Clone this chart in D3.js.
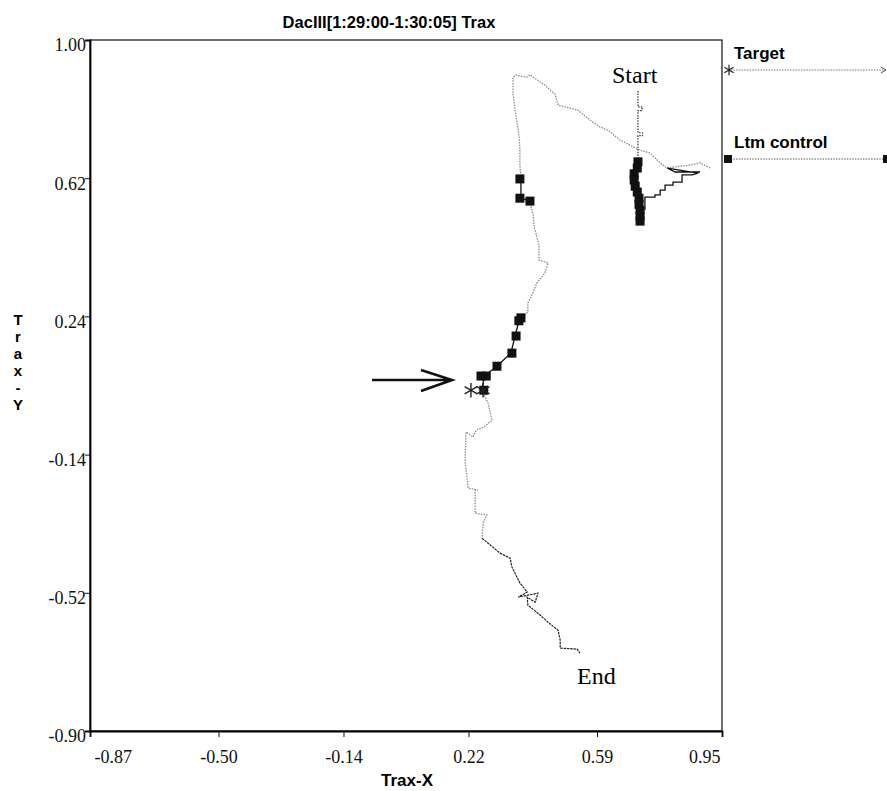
<!DOCTYPE html>
<html>
<head>
<meta charset="utf-8">
<script src="https://cdn.jsdelivr.net/npm/d3@7"></script>
<style>
  body { margin: 0; background: #fff; }
  .serif { font-family: 'Liberation Serif', 'DejaVu Serif', serif; }
  .sans { font-family: 'Liberation Sans', Arial, sans-serif; font-weight: bold; }
</style>
</head>
<body>
<div class="main"></div>
<script>
// tick labels
var xTicks = [-0.87, -0.50, -0.14, 0.22, 0.59, 0.95];
var yTicks = [1.00, 0.62, 0.24, -0.14, -0.52, -0.90];

// target trace (grey dotted), upper part
var traceUpper = [[0.916,0.648],[0.887,0.662],[0.858,0.656],[0.829,0.653],[0.792,0.648],[0.772,0.662],
    [0.743,0.689],[0.714,0.697],[0.656,0.725],[0.622,0.752],[0.599,0.761],[0.570,0.780],[0.535,0.807],
    [0.498,0.816],[0.478,0.821],[0.469,0.851],[0.440,0.876],[0.397,0.904],[0.389,0.898],[0.368,0.901],
    [0.357,0.904],[0.348,0.898],[0.348,0.854],[0.354,0.807],[0.360,0.772],[0.366,0.733],[0.368,0.697],
    [0.368,0.656],[0.371,0.620]];
var traceMid = [[0.397,0.557],[0.406,0.519],[0.409,0.486],[0.417,0.458],[0.423,0.436],[0.423,0.395],
    [0.449,0.387],[0.440,0.359],[0.417,0.332],[0.403,0.299],[0.391,0.277],[0.391,0.252],[0.366,0.230]];
var traceLow = [[0.259,0.037],[0.276,0.002],[0.288,-0.045],[0.265,-0.064],[0.242,-0.073],[0.233,-0.092],
    [0.213,-0.078],[0.210,-0.155],[0.219,-0.232],[0.247,-0.238],[0.239,-0.238],[0.239,-0.301],
    [0.273,-0.306],[0.262,-0.328],[0.259,-0.370]];
// darker final part of the trace
var traceEnd = [[0.259,-0.370],[0.311,-0.411],[0.340,-0.425],[0.345,-0.449],[0.368,-0.493],[0.389,-0.518],
    [0.363,-0.532],[0.420,-0.521],[0.412,-0.546],[0.389,-0.532],[0.391,-0.554],[0.426,-0.581],
    [0.449,-0.601],[0.478,-0.623],[0.484,-0.650],[0.484,-0.672],[0.533,-0.675],[0.541,-0.686]];

// ltm control (black solid)
var ltmA = [[0.371,0.620],[0.371,0.565],[0.397,0.557]];
var ltmB = [[0.366,0.230],[0.354,0.186],[0.342,0.139],[0.302,0.103],[0.265,0.076],[0.259,0.037]];
var ltmStairs = [[0.728,0.532],[0.728,0.568],[0.757,0.568],[0.757,0.574],[0.772,0.574],[0.772,0.587],
    [0.786,0.587],[0.786,0.601],[0.809,0.601],[0.809,0.609],[0.835,0.609],[0.835,0.629],[0.864,0.629],
    [0.881,0.634],[0.792,0.648],[0.815,0.637],[0.887,0.637]];
var startLine = [[0.708,0.860],[0.708,0.816],[0.721,0.816],[0.719,0.806],[0.708,0.806],[0.708,0.745],
    [0.721,0.745],[0.721,0.737],[0.708,0.737],[0.708,0.670]];

// square markers
var ltmSquares = [[0.708,0.665],[0.706,0.648],[0.697,0.632],[0.697,0.615],[0.700,0.598],[0.706,0.582],
    [0.711,0.565],[0.711,0.548],[0.714,0.532],[0.714,0.515],[0.714,0.502],
    [0.368,0.618],[0.368,0.565],[0.397,0.557],[0.371,0.236],[0.365,0.228],[0.357,0.186],
    [0.345,0.139],[0.302,0.103],[0.256,0.076],[0.271,0.076],[0.264,0.037]];
// target star markers
var targetStars = [[0.227,0.037],[0.262,0.037]];

var options = { width: 887, height: 791 };
var m = { left: 90, top: 40, right: 722, bottom: 731 };

var svg = d3.select('.main').append('svg')
    .attr('width', options.width)
    .attr('height', options.height);

var x = d3.scaleLinear().domain([-0.87, 0.95]).range([m.left, m.right]);
var y = d3.scaleLinear().domain([-0.90, 1.00]).range([m.bottom, m.top]);
var fmt = function (d) { return d3.format('.2f')(d).replace('\u2212', '-'); };

// frame
svg.append('rect')
    .attr('x', m.left).attr('y', m.top)
    .attr('width', m.right - m.left).attr('height', m.bottom - m.top)
    .style('fill', 'none').style('stroke', '#111').style('stroke-width', 1.2);

var xAxis = svg.append('g')
    .attr('transform', 'translate(0,' + m.bottom + ')')
    .call(d3.axisBottom(x).tickValues(xTicks).tickSize(6).tickFormat(fmt));
xAxis.select('.domain').style('stroke-width', 1.8);
xAxis.selectAll('text').attr('class', 'serif').style('font-size', '18px').attr('dy', '1.3em')
    .attr('text-anchor', function (d, i) { return i === 0 ? 'start' : (i === xTicks.length - 1 ? 'end' : 'middle'); })
    .attr('x', function (d, i) { return i === 0 ? 4 : (i === xTicks.length - 1 ? -2 : 0); });

var yAxis = svg.append('g')
    .attr('transform', 'translate(' + m.left + ',0)')
    .call(d3.axisLeft(y).tickValues(yTicks).tickSize(5).tickFormat(fmt));
yAxis.select('.domain').style('stroke-width', 1.8);
yAxis.selectAll('text').attr('class', 'serif').style('font-size', '18px').attr('x', -4).attr('dy', '0.6em');
svg.selectAll('.tick line').style('stroke', '#111');
svg.selectAll('.tick text').style('fill', '#111');

// title and axis titles
svg.append('text').attr('class', 'sans').text('DacIII[1:29:00-1:30:05] Trax')
    .attr('x', 389).attr('y', 28).attr('text-anchor', 'middle').style('font-size', '16.5px');
svg.append('text').attr('class', 'sans').text('Trax-X')
    .attr('x', 407).attr('y', 786).attr('text-anchor', 'middle').style('font-size', '17px');
svg.append('g').selectAll('text')
    .data('Trax-Y'.split(''))
    .enter().append('text').attr('class', 'sans')
    .text(function (d) { return d; })
    .attr('x', 18).attr('y', function (d, i) { return 325 + i * 17; })
    .attr('text-anchor', 'middle').style('font-size', '15px');

// annotations
svg.append('text').attr('class', 'serif').text('Start')
    .attr('x', 612).attr('y', 83).style('font-size', '24px');
svg.append('text').attr('class', 'serif').text('End')
    .attr('x', 577).attr('y', 684).style('font-size', '24px');
svg.append('path')
    .attr('d', 'M372,380L452,380M421,370L452,380L421,391')
    .style('fill', 'none').style('stroke', '#111').style('stroke-width', 2.6);

var line = d3.line().x(function (d) { return x(d[0]); }).y(function (d) { return y(d[1]); });

[traceUpper, traceMid, traceLow].forEach(function (s) {
    svg.append('path').attr('d', line(s))
        .style('fill', 'none').style('stroke', '#8a8a8a')
        .style('stroke-width', 1.3).style('stroke-dasharray', '1.5,1.2');
});
svg.append('path').attr('d', line(traceEnd))
    .style('fill', 'none').style('stroke', '#222')
    .style('stroke-width', 1.2).style('stroke-dasharray', '2.5,0.8');
svg.append('path').attr('d', line(startLine))
    .style('fill', 'none').style('stroke', '#333')
    .style('stroke-width', 1.2).style('stroke-dasharray', '1.5,1.2');
[ltmA, ltmB, ltmStairs].forEach(function (s) {
    svg.append('path').attr('d', line(s))
        .style('fill', 'none').style('stroke', '#111').style('stroke-width', 1.3);
});

svg.selectAll('.sq')
    .data(ltmSquares)
    .enter().append('rect')
    .attr('class', 'sq')
    .attr('x', function (d) { return x(d[0]) - 4.5; })
    .attr('y', function (d) { return y(d[1]) - 4.5; })
    .attr('width', 9).attr('height', 9)
    .style('fill', '#111');

var star = d3.symbol().type(d3.symbolAsterisk || d3.symbolCross).size(150);
svg.selectAll('.star')
    .data(targetStars)
    .enter().append('path')
    .attr('class', 'star')
    .attr('d', star)
    .attr('transform', function (d) { return 'translate(' + x(d[0]) + ',' + y(d[1]) + ')'; })
    .style('fill', 'none').style('stroke', '#222').style('stroke-width', 1.4);

// legend
var legend = svg.append('g');
legend.append('text').attr('class', 'sans').text('Target')
    .attr('x', 734).attr('y', 59).style('font-size', '17px');
legend.append('line').attr('x1', 728).attr('x2', 887).attr('y1', 70).attr('y2', 70)
    .style('stroke', '#777').style('stroke-width', 1.2).style('stroke-dasharray', '1.5,1.2');
legend.append('path').attr('d', d3.symbol().type(d3.symbolAsterisk || d3.symbolCross).size(80))
    .attr('transform', 'translate(729,70)')
    .style('fill', 'none').style('stroke', '#222').style('stroke-width', 1.2);
legend.append('path').attr('d', 'M881,67L886,70L881,73')
    .style('fill', 'none').style('stroke', '#555').style('stroke-width', 1);
legend.append('text').attr('class', 'sans').text('Ltm control')
    .attr('x', 734).attr('y', 148).style('font-size', '17px');
legend.append('line').attr('x1', 728).attr('x2', 887).attr('y1', 159).attr('y2', 159)
    .style('stroke', '#555').style('stroke-width', 1.2).style('stroke-dasharray', '1.5,1.2');
legend.append('rect').attr('x', 724).attr('y', 155).attr('width', 8).attr('height', 8).style('fill', '#111');
legend.append('rect').attr('x', 883).attr('y', 155).attr('width', 8).attr('height', 8).style('fill', '#111');
</script>
</body>
</html>
